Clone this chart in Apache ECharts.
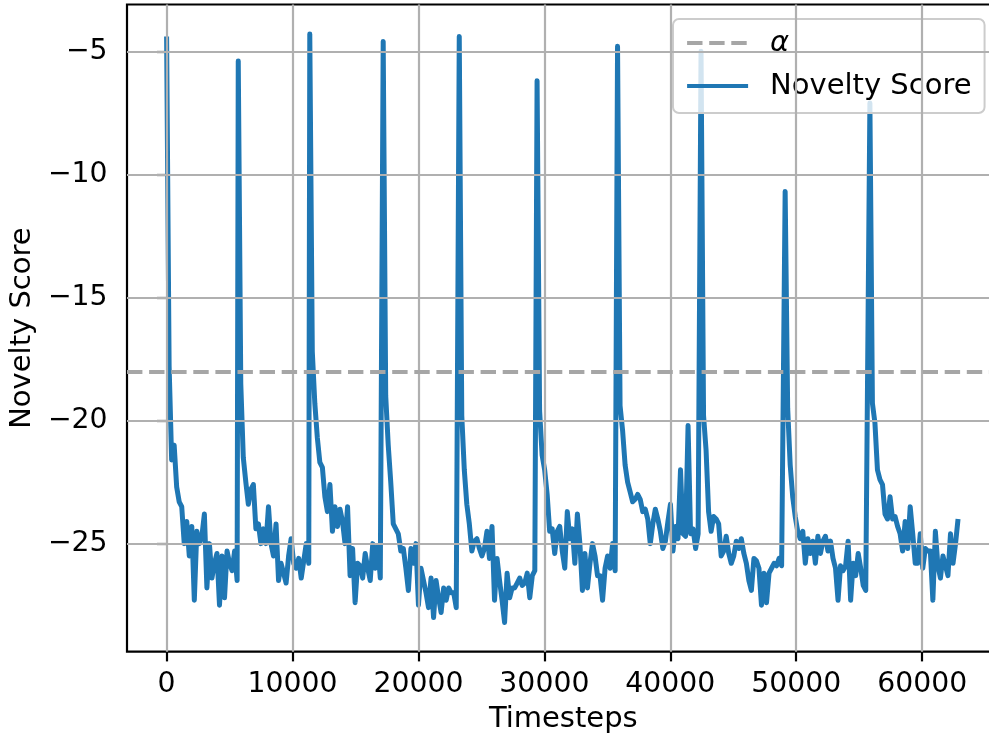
<!DOCTYPE html>
<html>
<head>
<meta charset="utf-8">
<title>Novelty Score</title>
<script src="https://cdn.jsdelivr.net/npm/echarts@6/dist/echarts.min.js"></script>
<style>
  html, body { margin: 0; padding: 0; background: #ffffff; }
  #chart { width: 989px; height: 736px; }
</style>
</head>
<body>
<div id="chart"></div>
<script>
// Logged every 200 timesteps; each episode begins with a novelty spike.
const SAMPLE_STEP = 200;
const episodeStarts = [0, 5690, 11370, 17200, 23240, 29420, 35810, 42440, 49120, 55850];

const episode1 = [-4.4, -17.8, -21.6, -21.0, -22.7, -23.3, -23.5, -25.0, -24.1, -25.5, -24.3, -27.3, -24.5, -25.0, -24.7,
  -23.8, -26.8, -25.0, -26.4, -25.8, -25.4, -27.5, -25.5, -27.2, -25.3, -25.8, -26.1, -25.3, -26.5];
const episode2 = [-5.4, -18.5, -21.5, -22.5, -23.4, -22.8, -22.6, -24.4, -24.2, -25.0, -24.4, -25.0, -23.5, -25.0, -25.5,
  -24.2, -26.5, -25.8, -26.2, -26.6, -25.5, -24.8, -25.8, -26.0, -25.6, -26.4, -25.7, -25.0, -25.8];
const episode3 = [-4.3, -17.2, -19.3, -20.7, -21.7, -21.9, -23.1, -23.7, -22.6, -24.5, -23.5, -24.3, -23.6, -24.1, -25.0,
  -23.5, -26.3, -25.2, -27.4, -25.8, -25.9, -26.4, -25.4, -26.0, -26.5, -25.0, -26.0, -25.1, -26.4];
const episode4 = [-4.6, -19.0, -21.0, -22.5, -24.2, -24.4, -24.6, -25.3, -25.2, -26.0, -26.9, -25.2, -25.8, -25.0, -27.5,
  -26.0, -26.5, -27.0, -27.6, -26.4, -28.0, -26.5, -27.2, -27.8, -26.8, -27.3, -26.8, -27.0, -27.0, -27.6];
const episode5 = [-4.4, -19.8, -22.0, -23.4, -24.2, -25.3, -24.9, -24.8, -25.2, -25.5, -25.2, -24.5, -25.6, -24.3, -27.3,
  -25.6, -26.5, -27.3, -28.2, -26.2, -27.2, -26.8, -26.8, -26.6, -26.4, -26.7, -26.6, -26.2, -27.2, -26.3, -26.1];
const episode6 = [-6.2, -19.6, -21.4, -22.0, -23.0, -24.5, -24.4, -25.4, -24.5, -24.3, -25.3, -26.0, -23.7, -24.8, -24.4,
  -25.8, -23.8, -25.0, -26.9, -25.4, -26.8, -25.8, -25.0, -25.5, -26.3, -26.3, -27.3, -26.0, -25.5, -26.0, -25.0, -26.1];
const episode7 = [-4.8, -19.4, -20.4, -21.8, -22.5, -22.9, -23.3, -23.2, -23.0, -23.2, -23.7, -23.6, -24.0, -25.0, -24.2,
  -23.6, -24.0, -24.5, -25.2, -24.9, -24.1, -23.4, -25.3, -24.3, -24.8, -22.0, -24.6, -24.7, -20.2, -24.6, -24.4, -25.2, -24.6];
const episode8 = [-5.0, -19.8, -21.2, -23.7, -24.5, -23.9, -24.0, -24.2, -25.5, -25.3, -24.7, -25.4, -25.8, -25.5, -24.9,
  -25.2, -24.8, -25.4, -25.8, -26.5, -26.9, -25.6, -25.7, -26.0, -27.5, -26.2, -27.4, -26.2, -26.0, -25.8, -25.9, -25.6, -25.9];
const episode9 = [-10.7, -19.5, -21.8, -23.1, -23.9, -24.5, -24.8, -24.5, -25.8, -24.8, -25.4, -24.9, -25.8, -24.7, -25.4,
  -24.9, -24.7, -25.3, -24.9, -25.6, -26.0, -27.3, -25.9, -26.1, -25.9, -24.9, -27.3, -25.8, -26.3, -25.4, -26.0, -26.7, -26.9];
const episode10 = [-7.1, -19.3, -20.1, -22.0, -22.4, -22.6, -23.8, -24.0, -23.1, -24.0, -23.9, -24.3, -24.6, -25.3, -24.1,
  -25.2, -23.5, -24.6, -25.8, -25.8, -24.6, -26.0, -25.2, -25.3, -25.3, -27.3, -24.5, -25.9, -26.4, -25.5, -25.9, -26.3,
  -24.6, -25.8, -25.0, -24.0];

const episodes = [episode1, episode2, episode3, episode4, episode5, episode6, episode7, episode8, episode9, episode10];

const alphaThreshold = -18;
const xTickValues = [0, 10000, 20000, 30000, 40000, 50000, 60000];
const yTickValues = [-25, -20, -15, -10, -5];

// Pair every logged score with its timestep.
const noveltyData = [];
episodes.forEach((values, k) => {
  values.forEach((v, i) => noveltyData.push([episodeStarts[k] + i * SAMPLE_STEP, v]));
});

const FONT = 'DejaVu Sans';
const TICK_FS = 28.3;
const LABEL_FS = 29;
const GRID_GRAY = '#b0b0b0';
const ALPHA_GRAY = '#a6a6a6';
const BLUE = '#1f77b4';
const LINE_W = 4.2;
const SCORE_W = 5;
const DASH = [15.4, 6.7];

const minusSign = v => (v < 0 ? '\u2212' + Math.abs(v) : String(v));

const chart = echarts.init(document.getElementById('chart'), null, { renderer: 'canvas' });

chart.setOption({
  animation: false,
  backgroundColor: '#ffffff',
  textStyle: { fontFamily: FONT },
  grid: {
    left: 127, top: 4.5, width: 872.6, height: 647.2,
    show: true, borderColor: '#000000', borderWidth: 2.2,
    backgroundColor: 'transparent',
    outerBoundsMode: 'none', containLabel: false
  },
  legend: {
    left: 673, top: 19, orient: 'vertical',
    padding: [9, 13, 12, 12], itemGap: 13,
    itemWidth: 61, itemHeight: 14,
    backgroundColor: 'rgba(255,255,255,0.8)',
    borderColor: '#cccccc', borderWidth: 2, borderRadius: 6,
    selectedMode: false,
    itemStyle: { opacity: 0 },
    lineStyle: { width: LINE_W },
    textStyle: { fontFamily: FONT, fontSize: LABEL_FS, color: '#000000', lineHeight: 30, padding: [0, 0, 0, 17] },
    data: [
      { name: '\u03b1', textStyle: { fontStyle: 'italic' } },
      { name: 'Novelty Score' }
    ]
  },
  xAxis: {
    type: 'value', min: -3145, max: 66150,
    name: 'Timesteps', nameLocation: 'middle', nameGap: 53,
    nameTextStyle: { fontFamily: FONT, fontSize: LABEL_FS, color: '#000000' },
    axisLine: { show: false },
    axisTick: { show: true, customValues: xTickValues, length: 9.7, lineStyle: { color: '#000000', width: 2.2 } },
    axisLabel: { customValues: xTickValues, margin: 19.4, color: '#000000', fontFamily: FONT, fontSize: TICK_FS, formatter: minusSign },
    splitLine: { show: false }
  },
  yAxis: {
    type: 'value', min: -29.39, max: -3.10,
    name: 'Novelty Score', nameLocation: 'middle', nameGap: 89,
    nameTextStyle: { fontFamily: FONT, fontSize: LABEL_FS, color: '#000000' },
    axisLine: { show: false },
    axisTick: { show: true, customValues: yTickValues, length: 9.7, lineStyle: { color: '#000000', width: 2.2 } },
    axisLabel: { customValues: yTickValues, margin: 19.4, color: '#000000', fontFamily: FONT, fontSize: TICK_FS, formatter: minusSign },
    splitLine: { show: false }
  },
  series: [
    {
      // Reference grid lines at the tick positions
      name: 'gridlines', type: 'line', data: [], silent: true, z: 1,
      markLine: {
        silent: true, symbol: ['none', 'none'], animation: false,
        label: { show: false },
        emphasis: { disabled: true },
        lineStyle: { color: GRID_GRAY, width: 2.2, type: 'solid' },
        data: xTickValues.map(v => ({ xAxis: v })).concat(yTickValues.map(v => ({ yAxis: v })))
      }
    },
    {
      name: '\u03b1', type: 'line', data: [], symbol: 'none', z: 2,
      itemStyle: { color: ALPHA_GRAY },
      lineStyle: { color: ALPHA_GRAY, width: LINE_W, type: DASH },
      markLine: {
        silent: true, symbol: ['none', 'none'], animation: false,
        label: { show: false },
        emphasis: { disabled: true },
        lineStyle: { color: ALPHA_GRAY, width: LINE_W, type: DASH },
        data: [{ yAxis: alphaThreshold }]
      }
    },
    {
      name: 'Novelty Score', type: 'line', data: noveltyData, z: 3,
      symbol: 'none', showSymbol: false,
      itemStyle: { color: BLUE },
      lineStyle: { color: BLUE, width: SCORE_W, join: 'round', cap: 'butt' },
      emphasis: { disabled: true }
    }
  ]
});
</script>
</body>
</html>
